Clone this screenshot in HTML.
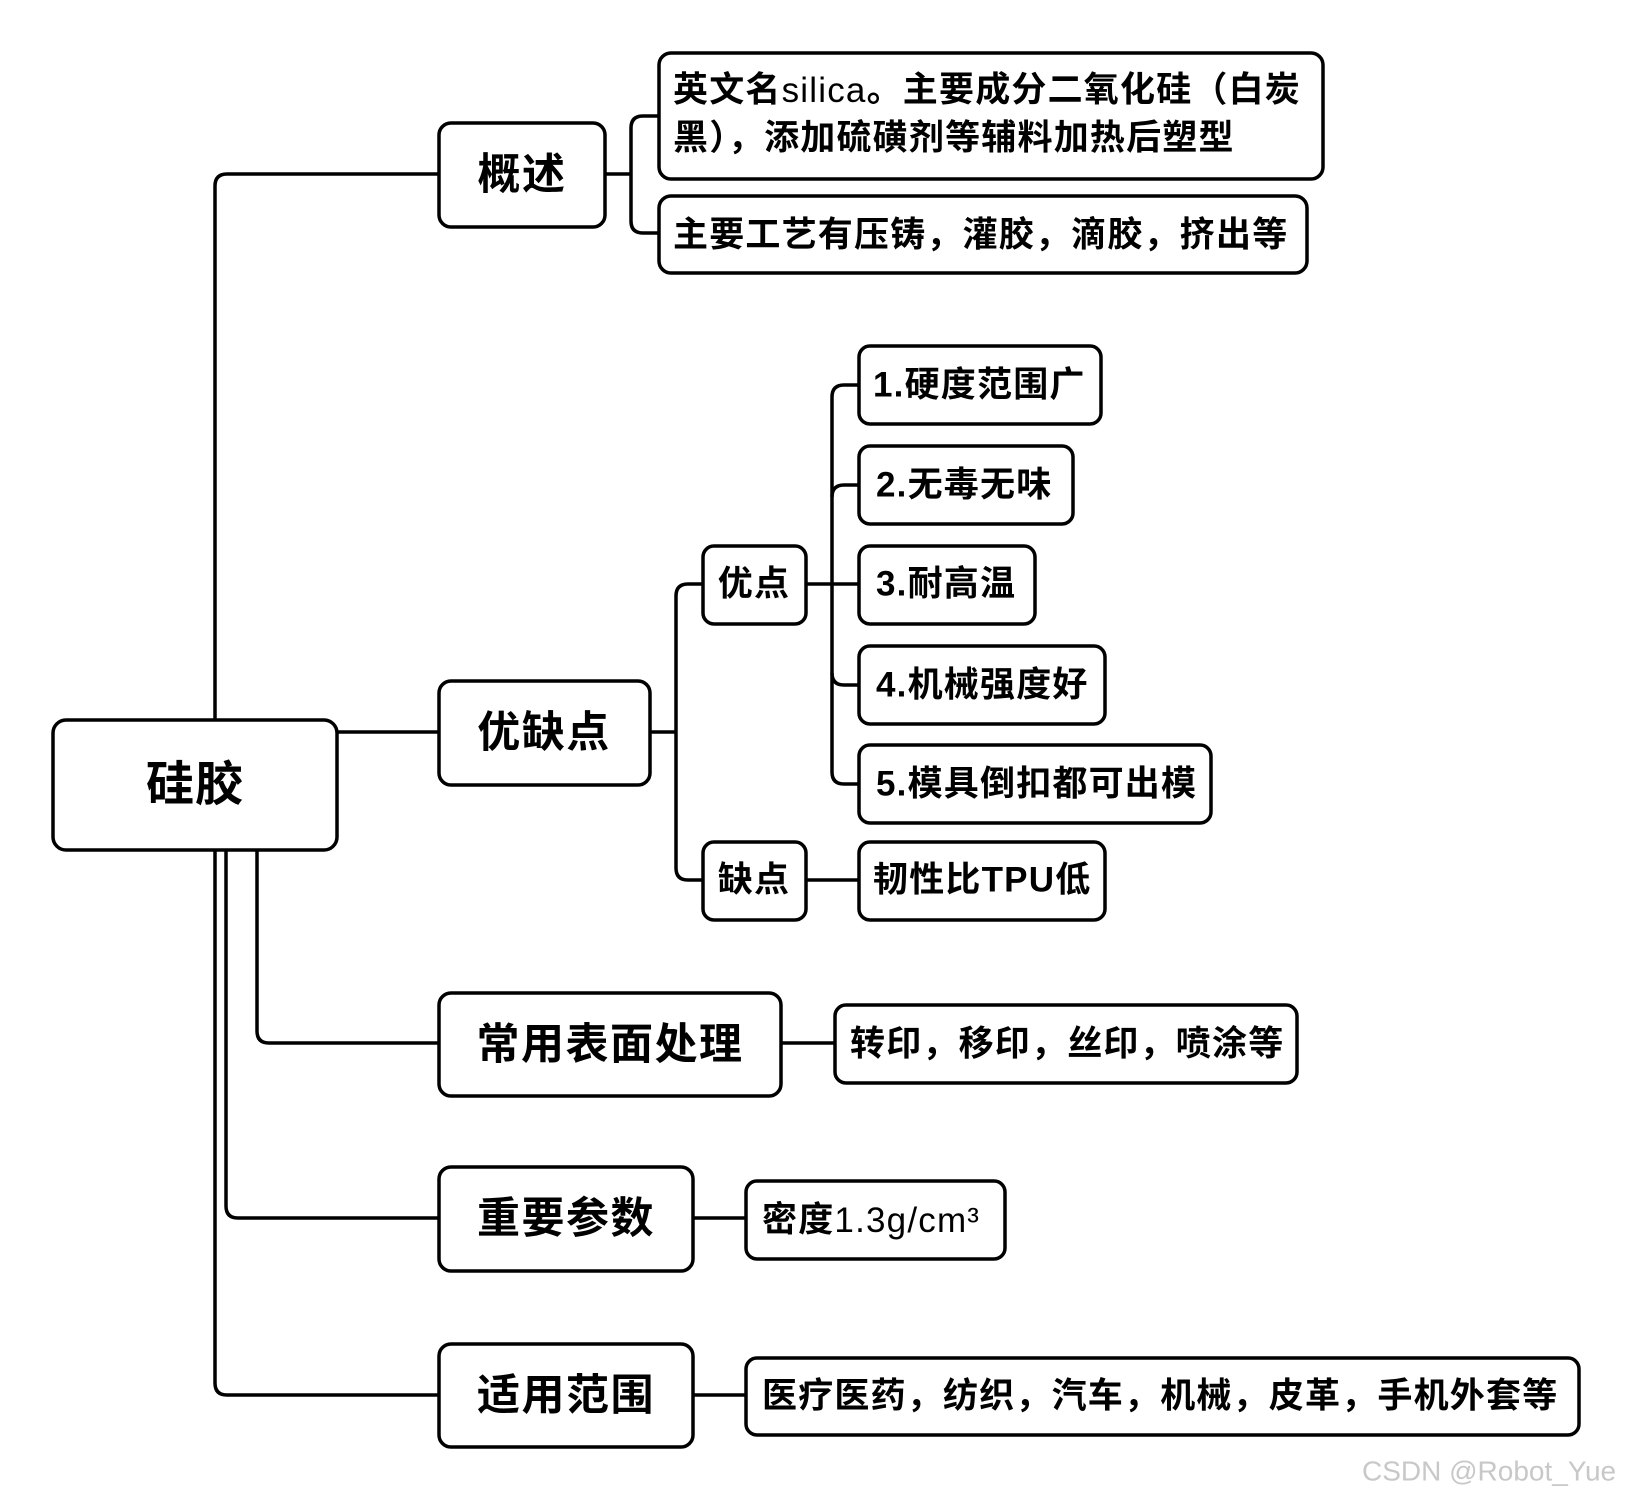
<!DOCTYPE html>
<html><head><meta charset="utf-8"><style>
html,body{margin:0;padding:0;background:#fff}
svg{display:block}
text{font-family:"Liberation Sans","Noto Sans CJK SC",sans-serif;font-weight:bold;fill:#000;dominant-baseline:central}
.s{font-size:35px;letter-spacing:1.2px}
.b{font-size:43px;letter-spacing:1.5px}
</style></head><body>
<svg width="1630" height="1498" viewBox="0 0 1630 1498">
<g fill="none" stroke="#000" stroke-width="3.5">
<path d="M215 720 V186 Q215 174 227 174 H439"/>
<path d="M337 732 H439"/>
<path d="M257 850 V1031 Q257 1043 269 1043 H439"/>
<path d="M226 850 V1206 Q226 1218 238 1218 H439"/>
<path d="M215 850 V1383 Q215 1395 227 1395 H439"/>
<path d="M605 174 H631"/>
<path d="M659 116 H643 Q631 116 631 128 V221 Q631 233 643 233 H659"/>
<path d="M650 732 H676"/>
<path d="M703 584 H688 Q676 584 676 596 V868 Q676 880 688 880 H703"/>
<path d="M806 584 H832"/>
<path d="M859 385 H844 Q832 385 832 397 V772 Q832 784 844 784 H859"/>
<path d="M832 497 Q832 485 844 485 H859"/>
<path d="M832 584 H859"/>
<path d="M832 673 Q832 685 844 685 H859"/>
<path d="M806 880 H859"/>
<path d="M781 1043 H835"/>
<path d="M693 1218 H746"/>
<path d="M693 1395 H746"/>
</g>
<g fill="#fff" stroke="#000" stroke-width="3.5">
<rect x="53" y="720" width="284" height="130" rx="13"/>
<rect x="439" y="123" width="166" height="104" rx="12"/>
<rect x="659" y="53" width="664" height="126" rx="12"/>
<rect x="659" y="196" width="648" height="77" rx="12"/>
<rect x="439" y="681" width="211" height="104" rx="12"/>
<rect x="703" y="546" width="103" height="78" rx="11"/>
<rect x="859" y="346" width="242" height="78" rx="11"/>
<rect x="859" y="446" width="214" height="78" rx="11"/>
<rect x="859" y="546" width="176" height="78" rx="11"/>
<rect x="859" y="646" width="246" height="78" rx="11"/>
<rect x="859" y="745" width="352" height="78" rx="11"/>
<rect x="703" y="842" width="103" height="78" rx="11"/>
<rect x="859" y="842" width="246" height="78" rx="11"/>
<rect x="439" y="993" width="342" height="103" rx="12"/>
<rect x="835" y="1005" width="462" height="78" rx="11"/>
<rect x="439" y="1167" width="254" height="104" rx="12"/>
<rect x="746" y="1181" width="259" height="78" rx="11"/>
<rect x="439" y="1344" width="254" height="103" rx="12"/>
<rect x="746" y="1358" width="833" height="77" rx="11"/>
</g>
<text x="195" y="785" font-size="48" text-anchor="middle" letter-spacing="1">硅胶</text>
<text x="522" y="175" class="b" text-anchor="middle">概述</text>
<text x="673" y="90" class="s">英文名<tspan font-weight="normal">silica</tspan>。主要成分二氧化硅（白炭</text>
<text x="673" y="138" class="s">黑），添加硫磺剂等辅料加热后塑型</text>
<text x="673" y="235" class="s">主要工艺有压铸，灌胶，滴胶，挤出等</text>
<text x="544" y="733" class="b" text-anchor="middle">优缺点</text>
<text x="754" y="584" class="s" text-anchor="middle">优点</text>
<text x="754" y="880" class="s" text-anchor="middle">缺点</text>
<text x="873" y="385" class="s">1.硬度范围广</text>
<text x="876" y="485" class="s">2.无毒无味</text>
<text x="876" y="584" class="s">3.耐高温</text>
<text x="876" y="685" class="s">4.机械强度好</text>
<text x="876" y="784" class="s">5.模具倒扣都可出模</text>
<text x="873" y="880" class="s">韧性比TPU低</text>
<text x="610" y="1045" class="b" text-anchor="middle">常用表面处理</text>
<text x="850" y="1044" class="s">转印，移印，丝印，喷涂等</text>
<text x="566" y="1219" class="b" text-anchor="middle">重要参数</text>
<text x="762" y="1220" class="s">密度<tspan font-weight="normal">1.3g/cm³</tspan></text>
<text x="566" y="1396" class="b" text-anchor="middle">适用范围</text>
<text x="762" y="1396" class="s">医疗医药，纺织，汽车，机械，皮革，手机外套等</text>
<text x="1362" y="1471" font-size="28" style="font-weight:normal;fill:#c8c8c8">CSDN @Robot_Yue</text>
</svg>
</body></html>
